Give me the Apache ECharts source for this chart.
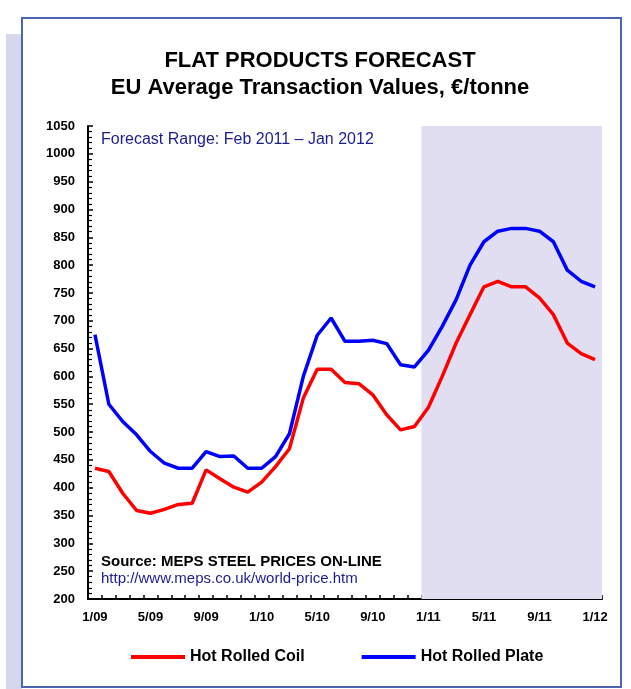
<!DOCTYPE html>
<html>
<head>
<meta charset="utf-8">
<script src="https://cdn.jsdelivr.net/npm/echarts@6/dist/echarts.min.js"></script>
<style>
html,body{margin:0;padding:0;background:#fff;}
#c{width:631px;height:689px;}
</style>
</head>
<body>
<div id="c"></div>
<script>
var months = ['1/09','2/09','3/09','4/09','5/09','6/09','7/09','8/09','9/09','10/09','11/09','12/09',
  '1/10','2/10','3/10','4/10','5/10','6/10','7/10','8/10','9/10','10/10','11/10','12/10',
  '1/11','2/11','3/11','4/11','5/11','6/11','7/11','8/11','9/11','10/11','11/11','12/11','1/12'];
var hotRolledCoil = [435,429,390,359,354,361,370,372,432,416,401,392,
  410,438,470,561,613,613,589,587,567,531,504,510,
  544,600,660,711,761,771,761,761,741,711,660,641,630];
var hotRolledPlate = [675,550,519,495,465,444,435,435,465,456,457,435,
  435,456,497,600,674,705,663,663,665,659,621,617,
  647,690,738,800,842,861,866,866,861,842,791,771,761];
var forecastStartIndex = 24;   // 1/11 band onwards is shaded
var yMin = 200, yMax = 1050, yStep = 50;

var FONT = '"Liberation Sans", Arial, sans-serif';
var chart = echarts.init(document.getElementById('c'));
chart.setOption({
  backgroundColor: '#ffffff',
  animation: false,
  title: {
    text: 'FLAT PRODUCTS FORECAST\nEU Average Transaction Values, €/tonne',
    left: 315, top: 42, textAlign: 'center',
    textStyle: {fontFamily: FONT, fontSize: 22, fontWeight: 'bold', color: '#000', lineHeight: 27}
  },
  legend: {
    data: ['Hot Rolled Coil', 'Hot Rolled Plate'],
    left: 131, top: 649, padding: 0,
    icon: 'rect', itemWidth: 54, itemHeight: 4, itemGap: 57,
    textStyle: {fontFamily: FONT, fontSize: 16, fontWeight: 'bold', color: '#000'}
  },
  grid: {left: 88, right: 29, top: 126, bottom: 90},
  xAxis: [{
    type: 'category', data: months, boundaryGap: true,
    axisLine: {lineStyle: {color: '#000', width: 2}},
    axisTick: {show: true, inside: true, length: 4, interval: 0, lineStyle: {color: '#000', width: 1.5}},
    axisLabel: {interval: 3, margin: 12, fontFamily: FONT, fontSize: 13, fontWeight: 'bold', color: '#000'},
    splitLine: {show: false}
  }, {
    type: 'value', min: 0, max: months.length, show: false,
    splitLine: {show: false}
  }],
  yAxis: {
    type: 'value', min: yMin, max: yMax, interval: yStep,
    axisLine: {show: true, lineStyle: {color: '#000', width: 2}},
    axisTick: {show: true, inside: true, length: 5, lineStyle: {color: '#000', width: 1.5}},
    minorTick: {show: true, splitNumber: 5, length: 4, lineStyle: {color: '#000', width: 1.2}},
    axisLabel: {margin: 13, fontFamily: FONT, fontSize: 13, fontWeight: 'bold', color: '#000',
      formatter: function (v) { return String(v); }},
    splitLine: {show: false}
  },
  series: [{
    name: 'forecast', type: 'line', xAxisIndex: 1, yAxisIndex: 0, data: [], z: 1,
    silent: true,
    markArea: {silent: true, itemStyle: {color: '#e0def0'},
      data: [[{xAxis: forecastStartIndex}, {xAxis: months.length}]]}
  }, {
    name: 'Hot Rolled Coil', type: 'line', data: hotRolledCoil, symbol: 'none', z: 3,
    lineStyle: {color: '#ff0000', width: 3.5}, itemStyle: {color: '#ff0000'}
  }, {
    name: 'Hot Rolled Plate', type: 'line', data: hotRolledPlate, symbol: 'none', z: 3,
    lineStyle: {color: '#0000ff', width: 3.5}, itemStyle: {color: '#0000ff'}
  }],
  graphic: [
    {type: 'rect', shape: {x: 6, y: 34, width: 16, height: 660}, style: {fill: '#d6d6ec'}, z: 0},
    {type: 'rect', shape: {x: 22, y: 18, width: 599, height: 669}, style: {fill: 'none', stroke: '#4a66b0', lineWidth: 2}, z: 10},
    {type: 'text', style: {x: 101, y: 140, text: 'Forecast Range: Feb 2011 – Jan 2012', fill: '#1c1c8e',
      font: '16px ' + FONT, verticalAlign: 'middle'}, z: 10},
    {type: 'text', style: {x: 101, y: 562, text: 'Source: MEPS STEEL PRICES ON-LINE', fill: '#000',
      font: 'bold 15px ' + FONT, verticalAlign: 'middle'}, z: 10},
    {type: 'text', style: {x: 101, y: 579, text: 'http://www.meps.co.uk/world-price.htm', fill: '#1c1c8e',
      font: '15px ' + FONT, verticalAlign: 'middle'}, z: 10}
  ]
});
</script>
</body>
</html>
